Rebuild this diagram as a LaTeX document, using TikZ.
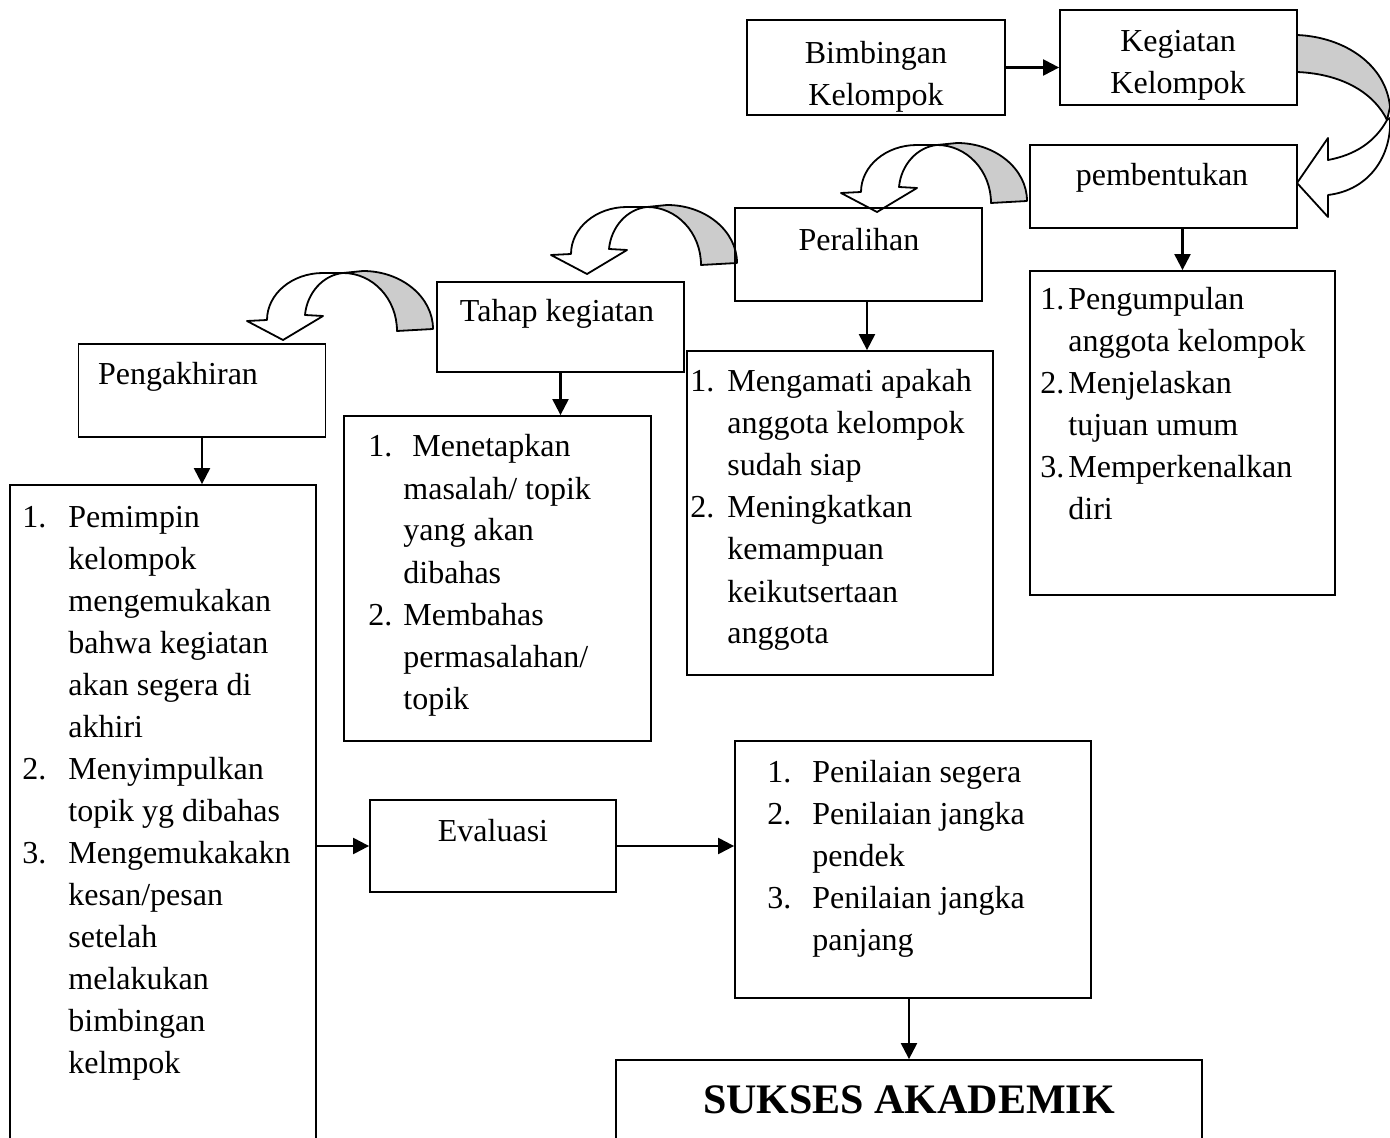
\documentclass[tikz,border=0pt]{standalone}
\usepackage{fontspec}
\setmainfont{Liberation Serif}
\usetikzlibrary{arrows.meta,calc}
\tikzset{
  rbox/.style={draw, line width=0.9pt, inner sep=0pt},
  lbl/.style={inner sep=0pt, font=\fontsize{16}{21}\selectfont},
  arr/.style={line width=1.1pt, -{Triangle[length=8pt,width=8pt]}},
  ribbon/.style={line width=0.9pt, line join=round},
  curvearr/.pic={
    \filldraw[ribbon, fill=gray!40] (0,0) -- (20,-2) .. controls (58.5,-2) and (90,24) .. (90,56)
      -- (54,58) .. controls (54,26) and (30,0) .. (0,0) -- cycle;
    \filldraw[ribbon, fill=white] (0,0) -- (-20,0) .. controls (-51,0) and (-76,21) .. (-76,47)
      -- (-96,48) -- (-60,67) -- (-20,43) -- (-38,42) .. controls (-36,20) and (-20,2) .. (0,0) -- cycle;
  }
}
\begin{document}
\begin{tikzpicture}[x=0.5pt,y=-0.5pt]
\clip (0,0) rectangle (1390,1138);
\fill[white] (0,0) rectangle (1390,1138);

% curved arrows
\filldraw[ribbon, fill=gray!40] (1297,35) .. controls (1345,37) and (1386,65) .. (1390,107)
  -- (1387,120) .. controls (1375,95) and (1345,74) .. (1297,72) -- cycle;
\filldraw[ribbon, fill=white] (1387,120) .. controls (1375,142) and (1355,155) .. (1328,160)
  -- (1328,138) -- (1297,183) -- (1328,217) -- (1328,195)
  .. controls (1370,190) and (1392,155) .. (1390,118) -- cycle;
\pic at (937,145) {curvearr};
\pic at (647,207) {curvearr};
\pic at (343,273) {curvearr};

% boxes
\node[rbox,minimum width=129pt,minimum height=47.5pt] (bim) at (876,67.5) {};
\node[lbl,anchor=base] (bimt) at (876,64) {\begin{tabular}[t]{@{}c@{}}Bimbingan\\Kelompok\end{tabular}};

\node[rbox,minimum width=118.5pt,minimum height=47.5pt] (keg) at (1178.5,57.5) {};
\node[lbl,anchor=base] (kegt) at (1178,52) {\begin{tabular}[t]{@{}c@{}}Kegiatan\\Kelompok\end{tabular}};

\node[rbox,minimum width=133.5pt,minimum height=41.5pt] (pemb) at (1163.5,186.5) {};
\node[lbl,anchor=base] (pembt) at (1162,186) {pembentukan};

\node[rbox,minimum width=152.5pt,minimum height=162pt] (pl) at (1182.5,433) {};
\node[lbl,anchor=base west] (plt) at (1040,310) {\begin{tabular}[t]{@{}l@{}}
\makebox[14pt][l]{1.}Pengumpulan\\
\hspace{14pt}anggota kelompok\\
\makebox[14pt][l]{2.}Menjelaskan\\
\hspace{14pt}tujuan umum\\
\makebox[14pt][l]{3.}Memperkenalkan\\
\hspace{14pt}diri\end{tabular}};

\node[rbox,minimum width=123.5pt,minimum height=46.5pt] (per) at (858.5,254.5) {};
\node[lbl,anchor=base] (pert) at (859,251) {Peralihan};

\node[rbox,minimum width=153pt,minimum height=162pt] (perl) at (840,513) {};
\node[lbl,anchor=base west] (perlt) at (690,392) {\begin{tabular}[t]{@{}l@{}}
\makebox[18.5pt][l]{1.}Mengamati apakah\\
\hspace{18.5pt}anggota kelompok\\
\hspace{18.5pt}sudah siap\\
\makebox[18.5pt][l]{2.}Meningkatkan\\
\hspace{18.5pt}kemampuan\\
\hspace{18.5pt}keikutsertaan\\
\hspace{18.5pt}anggota\end{tabular}};

\node[rbox,minimum width=123.5pt,minimum height=45pt] (tah) at (560.5,327) {};
\node[lbl,anchor=base] (taht) at (557,322) {Tahap kegiatan};

\node[rbox,minimum width=153.5pt,minimum height=162.5pt] (tahl) at (497.5,578.5) {};
\node[lbl,anchor=base west] (tahlt) at (368,457) {\begin{tabular}[t]{@{}l@{}}
\makebox[17.5pt][l]{1.}\hspace{4.5pt}Menetapkan\\
\hspace{17.5pt}masalah/ topik\\
\hspace{17.5pt}yang akan\\
\hspace{17.5pt}dibahas\\
\makebox[17.5pt][l]{2.}Membahas\\
\hspace{17.5pt}permasalahan/\\
\hspace{17.5pt}topik\end{tabular}};

\node[rbox,minimum width=123.5pt,minimum height=46.5pt] (pen) at (202,390.5) {};
\node[lbl,anchor=base] (pent) at (178,385) {Pengakhiran};

\node[rbox,minimum width=153pt,minimum height=337.5pt] (penl) at (163,822.5) {};
\node[lbl,anchor=base west] (penlt) at (22,527) {\begin{tabular}[t]{@{}l@{}}
\makebox[23pt][l]{1.}Pemimpin\\
\hspace{23pt}kelompok\\
\hspace{23pt}mengemukakan\\
\hspace{23pt}bahwa kegiatan\\
\hspace{23pt}akan segera di\\
\hspace{23pt}akhiri\\
\makebox[23pt][l]{2.}Menyimpulkan\\
\hspace{23pt}topik yg dibahas\\
\makebox[23pt][l]{3.}Mengemukakakn\\
\hspace{23pt}kesan/pesan\\
\hspace{23pt}setelah\\
\hspace{23pt}melakukan\\
\hspace{23pt}bimbingan\\
\hspace{23pt}kelmpok\end{tabular}};

\node[rbox,minimum width=123pt,minimum height=46pt] (eva) at (493,846) {};
\node[lbl,anchor=base] (evat) at (493,841) {Evaluasi};

\node[rbox,minimum width=178pt,minimum height=128.5pt] (evl) at (913,869.5) {};
\node[lbl,anchor=base west] (evlt) at (767,782) {\begin{tabular}[t]{@{}l@{}}
\makebox[22.5pt][l]{1.}Penilaian segera\\
\makebox[22.5pt][l]{2.}Penilaian jangka\\
\hspace{22.5pt}pendek\\
\makebox[22.5pt][l]{3.}Penilaian jangka\\
\hspace{22.5pt}panjang\end{tabular}};

\node[rbox,minimum width=293pt,minimum height=50pt] (suk) at (909,1110) {};
\node[inner sep=0pt,anchor=base,font=\fontsize{21}{25}\selectfont\bfseries] (sukt) at (909,1113) {SUKSES AKADEMIK};

% connectors
\draw[arr] (bim.east) -- (bim.east -| keg.west);
\draw[arr] (pl.north |- pemb.south) -- (pl.north);
\coordinate (pa) at ($(per.south)+(8.5,0)$);
\draw[arr] (pa) -- (pa |- perl.north);
\draw[arr] (tah.south) -- (tah.south |- tahl.north);
\draw[arr] (pen.south) -- (pen.south |- penl.north);
\draw[arr] (eva.west -| penl.east) -- (eva.west);
\draw[arr] (eva.east) -- (eva.east -| evl.west);
\draw[arr] (evl.south -| suk.north) -- (suk.north);
\end{tikzpicture}
\end{document}
